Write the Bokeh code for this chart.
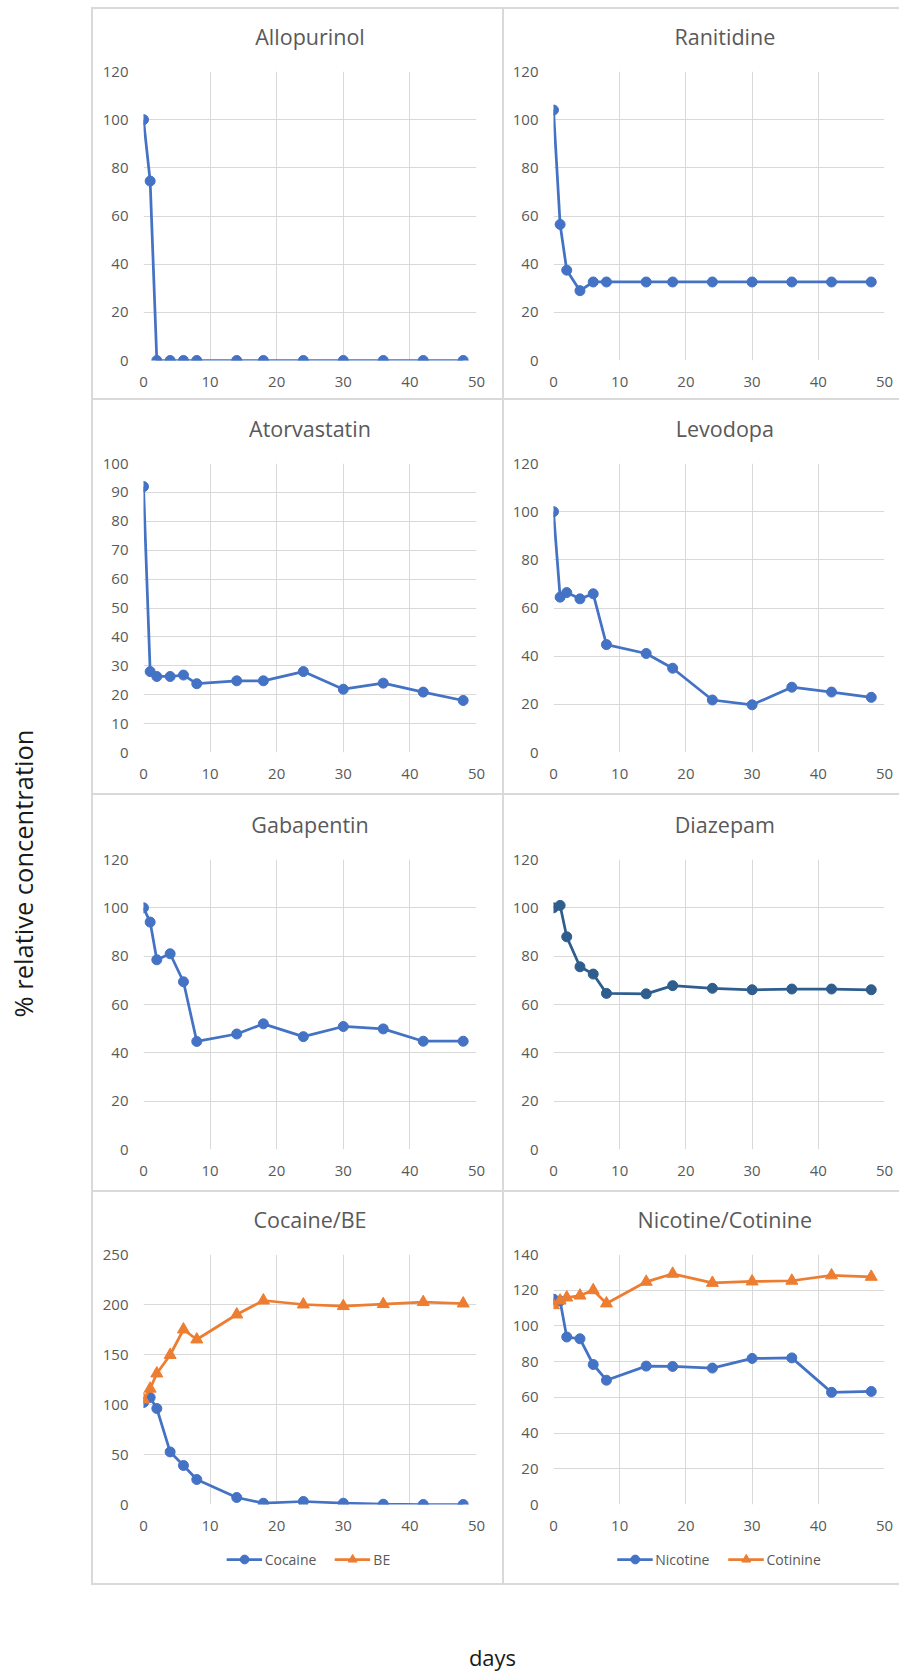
from bokeh.plotting import figure
from bokeh.layouts import row, column
from bokeh.models import Range1d, FixedTicker, Legend, LegendItem, Spacer
from bokeh.core.properties import value
from bokeh.embed import file_html
from bokeh.resources import INLINE
import math

# ---------------- data ----------------
days = [0, 1, 2, 4, 6, 8, 14, 18, 24, 30, 36, 42, 48]

allopurinol = [100, 74.5, 0, 0, 0, 0, 0, 0, 0, 0, 0, 0, 0]
ranitidine = [104, 56.5, 37.5, 29, 32.6, 32.6, 32.6, 32.6, 32.6, 32.6, 32.6, 32.6, 32.6]
atorvastatin = [92, 28, 26.3, 26.3, 26.8, 23.8, 24.8, 24.8, 28, 21.9, 24, 20.9, 18]
levodopa = [100, 64.5, 66.4, 63.8, 65.9, 44.8, 41.1, 35, 21.8, 19.8, 27.1, 25.1, 22.9]
gabapentin = [100, 94.1, 78.5, 81, 69.4, 44.7, 47.8, 52, 46.7, 50.9, 49.9, 44.8, 44.8]
diazepam = [100, 101, 88, 75.6, 72.6, 64.6, 64.4, 67.8, 66.7, 66.1, 66.4, 66.4, 66.1]
cocaine = [102, 107, 96, 52.6, 39, 25, 7, 1.3, 3, 1.3, 0.3, 0, 0]
be = [105, 115.8, 131, 149.5, 175, 165, 190, 204, 200, 198.4, 200.4, 202.4, 201]
nicotine = [115, 114, 93.8, 92.8, 78.4, 69.6, 77.5, 77.3, 76.4, 81.8, 82.1, 62.8, 63.3]
cotinine = [111.6, 114.2, 115.9, 117, 120, 112.6, 124.7, 129.2, 124.1, 124.9, 125.3, 128.3, 127.5]

x_ticks = [0, 10, 20, 30, 40, 50]
y_label = "% relative concentration"
x_label = "days"

BLUE = "#4472C4"
ORANGE = "#ED7D31"
DARKBLUE = "#2F5E8E"
GRID = "#d9d9d9"
TXT = "#595959"
FONT = "Open Sans"

YLAB_W = 91
LEFT_W, RIGHT_W = 411, 397
LEFT_B, RIGHT_B = (52, 26), (51, 15)
TITLE_X = 205.5
TITLE_GAP = 14      # space between title strip and frame top kept in figure
LW = 2.75
DOT = 10
TRI = 12
STRIP_H = 43


def border(sides):
    shadows = []
    if "top" in sides:
        shadows.append("inset 0 2px 0 0 " + GRID)
    if "left" in sides:
        shadows.append("inset 2px 0 0 0 " + GRID)
    if "bottom" in sides:
        shadows.append("inset 0 -2px 0 0 " + GRID)
    return {"box-shadow": ", ".join(shadows)}


def blank(w, h, **kw):
    f = figure(width=w, height=h, x_range=Range1d(0, w), y_range=Range1d(0, h),
               x_axis_type=None, y_axis_type=None, output_backend="svg",
               toolbar_location=None, min_border=0, **kw)
    f.grid.visible = False
    f.outline_line_color = None
    f.border_fill_alpha = 0
    f.background_fill_alpha = 0
    return f


def style_axes(p, ymax, ystep):
    p.outline_line_color = None
    p.border_fill_alpha = 0
    p.xaxis.ticker = FixedTicker(ticks=x_ticks)
    p.yaxis.ticker = FixedTicker(ticks=list(range(0, ymax + 1, ystep)))
    for ax in (p.xaxis[0], p.yaxis[0]):
        ax.axis_line_color = None
        ax.major_tick_line_color = None
        ax.minor_tick_line_color = None
        ax.major_tick_out = 0
        ax.major_tick_in = 0
        ax.major_label_text_font = FONT
        ax.major_label_text_font_size = "15px"
        ax.major_label_text_color = TXT
    p.xaxis.major_label_standoff = 16
    p.yaxis.major_label_standoff = 15
    p.xgrid.grid_line_color = GRID
    p.ygrid.grid_line_color = GRID


def panel(title, col, top, frame_h, bottom, ymax, ystep, series,
          legend_pad=None):
    width = LEFT_W if col == 0 else RIGHT_W
    left, right = LEFT_B if col == 0 else RIGHT_B
    last = legend_pad is not None

    t = blank(width, top - TITLE_GAP)
    t.text(x=[TITLE_X], y=[35.3 - TITLE_GAP], text=[title], text_align="center",
           text_baseline="middle", text_font=value(FONT),
           text_font_size="21.5px", text_color=TXT)
    t.styles = border(("top", "left"))

    p = figure(width=width, height=TITLE_GAP + frame_h + bottom,
               x_range=Range1d(0, 50), y_range=Range1d(0, ymax),
               output_backend="svg", toolbar_location=None,
               min_border_left=left, min_border_right=right,
               min_border_top=TITLE_GAP, min_border_bottom=bottom)
    style_axes(p, ymax, ystep)
    for name, ys, color, marker, msize in series:
        p.line(days, ys, line_color=color, line_width=LW)
        p.scatter(days, ys, marker=marker, size=msize, color=color)
    p.styles = border(("left",))
    children = [t, p]

    if last:
        s = figure(width=width, height=STRIP_H, x_range=Range1d(0, 50),
                   y_range=Range1d(0, ymax), x_axis_type=None, y_axis_type=None,
                   output_backend="svg", toolbar_location=None,
                   min_border_left=legend_pad, min_border_right=0,
                   min_border_top=0, min_border_bottom=0)
        s.grid.visible = False
        s.outline_line_color = None
        s.border_fill_alpha = 0
        s.background_fill_alpha = 0
        items = []
        for name, ys, color, marker, msize in series:
            lr = s.line(days, ys, line_color=color, line_width=LW, visible=False)
            sr = s.scatter(days, ys, marker=marker, size=msize, color=color,
                           visible=False)
            items.append(LegendItem(label=name, renderers=[lr, sr]))
        lg = Legend(items=items, orientation="horizontal", location="top",
                    border_line_color=None, background_fill_alpha=0,
                    inactive_fill_alpha=0,
                    label_text_font=FONT, label_text_font_size="14px",
                    label_text_color=TXT, glyph_width=36, glyph_height=22,
                    label_standoff=3, spacing=18, padding=0, margin=6)
        s.add_layout(lg)
        s.styles = border(("left", "bottom"))
        children.append(s)
    return column(*children)


# rows: (top, frame_h, bottom)
R1 = (64, 289, 38)
R2 = (65, 289, 41)
R3 = (66, 290, 41)
R4 = (64, 250, 38)
TOP_GAP = 7

c1 = panel("Allopurinol", 0, *R1, 120, 20,
           [("Allopurinol", allopurinol, BLUE, "circle", DOT)])
c2 = panel("Ranitidine", 1, *R1, 120, 20,
           [("Ranitidine", ranitidine, BLUE, "circle", DOT)])
c3 = panel("Atorvastatin", 0, *R2, 100, 10,
           [("Atorvastatin", atorvastatin, BLUE, "circle", DOT)])
c4 = panel("Levodopa", 1, *R2, 120, 20,
           [("Levodopa", levodopa, BLUE, "circle", DOT)])
c5 = panel("Gabapentin", 0, *R3, 120, 20,
           [("Gabapentin", gabapentin, BLUE, "circle", DOT)])
c6 = panel("Diazepam", 1, *R3, 120, 20,
           [("Diazepam", diazepam, DARKBLUE, "circle", DOT)])
c7 = panel("Cocaine/BE", 0, *R4, 250, 50,
           [("Cocaine", cocaine, BLUE, "circle", DOT),
            ("BE", be, ORANGE, "triangle", TRI)], legend_pad=5)
c8 = panel("Nicotine/Cotinine", 1, *R4, 140, 20,
           [("Nicotine", nicotine, BLUE, "circle", DOT),
            ("Cotinine", cotinine, ORANGE, "triangle", TRI)], legend_pad=18)

grid_h = TOP_GAP + sum(R1) + sum(R2) + sum(R3) + sum(R4) + STRIP_H

ylab = blank(YLAB_W, grid_h)
ylab.text(x=[22.5], y=[grid_h - 873], text=[y_label], angle=math.pi / 2,
          text_align="center", text_baseline="middle",
          text_font=value(FONT), text_font_size="25.5px", text_color="#1a1a1a")

XLAB_H = 1671 - grid_h
xlab = blank(YLAB_W + LEFT_W + RIGHT_W, XLAB_H)
xlab.text(x=[492], y=[XLAB_H - (1656 - grid_h)], text=[x_label],
          text_align="center", text_baseline="middle",
          text_font=value(FONT), text_font_size="22px", text_color="#1a1a1a")

grid = column(Spacer(width=LEFT_W + RIGHT_W, height=TOP_GAP),
              row(c1, c2), row(c3, c4), row(c5, c6), row(c7, c8))
layout = column(row(ylab, grid), xlab)

open("out.html", "w").write(file_html(layout, INLINE, title="Stability"))
